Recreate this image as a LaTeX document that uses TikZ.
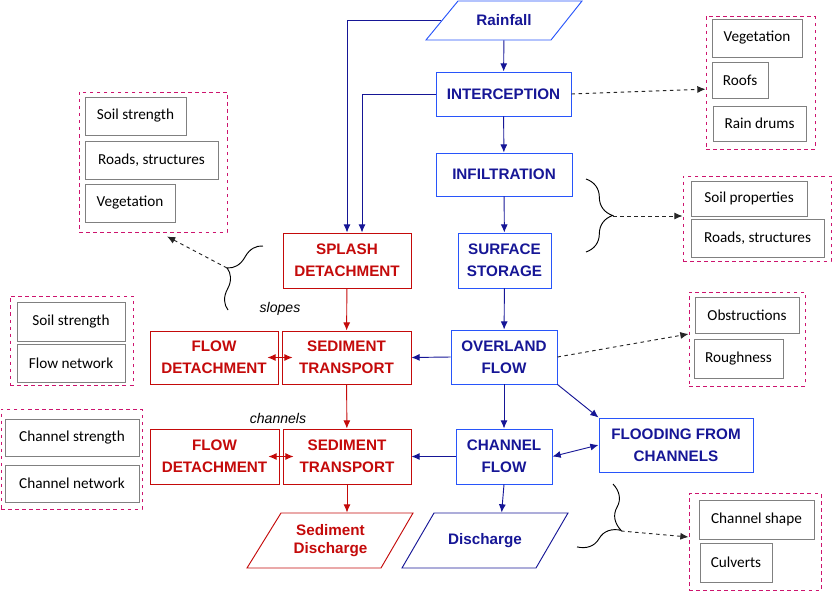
\documentclass[tikz,border=0pt]{standalone}
\usepackage{fontspec}
\setmainfont{Liberation Sans}
\newfontfamily\calibri{Carlito}
\usetikzlibrary{decorations.pathreplacing,arrows.meta}

\definecolor{navy}{RGB}{22,22,150}
\definecolor{bbox}{RGB}{40,85,250}
\definecolor{rbox}{RGB}{196,10,10}
\definecolor{pinkd}{RGB}{205,20,110}
\definecolor{gbox}{RGB}{128,128,128}

\begin{document}
\begin{tikzpicture}[x=0.03cm, y=-0.03cm,
  sz/.style 2 args={minimum width=#1*0.03cm, minimum height=#2*0.03cm},
  bbx/.style={draw=bbox, line width=0.8pt, text=navy, inner sep=0pt, align=center,
    font=\fontsize{13}{19}\selectfont\bfseries},
  rbx/.style={bbx, draw=rbox, text=rbox},
  txt/.style={bbx, draw=none},
  grp/.style={draw=pinkd, dashed, line width=0.8pt, inner sep=0pt},
  item/.style={draw=gbox, line width=0.8pt, inner sep=0pt,
    font=\calibri\fontsize{13}{15}\selectfont},
  barr/.style={navy, line width=0.8pt, -{Latex[length=7pt,width=6pt]}},
  rarr/.style={barr, rbox},
  darr/.style={black!85, dashed, line width=0.8pt, -{Latex[length=7pt,width=6pt]}},
  brc/.style={decorate, decoration={brace, amplitude=#1}, line width=0.8pt}
]
\useasboundingbox (0,0) rectangle (832,592);

% water path
\draw[bbox, line width=0.8pt] (458,1) -- (582,1) -- (551,40) -- (426,40) -- cycle;
\node[txt, sz={124.5}{39}] (rain) at (504,20.5) {Rainfall};
\node[bbx, sz={135}{44}] (icpt) at (503.5,94) {INTERCEPTION};
\node[bbx, sz={136}{43}] (infl) at (504,174.5) {INFILTRATION};
\node[bbx, sz={93}{55}] (stor) at (504.5,260.5) {SURFACE\\STORAGE};
\node[bbx, sz={106}{54}] (ovfl) at (504,357) {OVERLAND\\FLOW};
\node[bbx, sz={96}{55}] (chfl) at (504,456.5) {CHANNEL\\FLOW};
\node[bbx, sz={154}{54}] (flood) at (676,445) {FLOODING FROM\\CHANNELS};
\draw[navy, line width=0.8pt] (434,513) -- (568,513) -- (536,568) -- (402,568) -- cycle;
\node[txt, sz={134}{55}] (dis) at (485,540.5) {Discharge};

% sediment path
\node[rbx, sz={128}{55}] (splash) at (347,260.5) {SPLASH\\DETACHMENT};
\node[rbx, sz={129}{53}] (sed1) at (346.5,357.5) {SEDIMENT\\TRANSPORT};
\node[rbx, sz={128}{53}] (fd1) at (214,357.5) {FLOW\\DETACHMENT};
\node[rbx, sz={128}{55}] (sed2) at (347,456.5) {SEDIMENT\\TRANSPORT};
\node[rbx, sz={129}{55}] (fd2) at (214.5,456.5) {FLOW\\DETACHMENT};
\draw[rbox, line width=0.8pt] (281,513) -- (413,513) -- (381,568) -- (247,568) -- cycle;
\node[txt, text=rbox, sz={133}{55}, font=\fontsize{13}{15.5}\selectfont\bfseries] (sdis) at (330.5,540.5) {Sediment\\Discharge};

\node[font=\fontsize{12}{14}\selectfont\itshape] (slp) at (280,309) {slopes};
\node[font=\fontsize{12}{14}\selectfont\itshape] (chn) at (278,418) {channels};

% factor groups
\node[grp, sz={148}{140}] (g0) at (153,162) {};
\node[item, sz={101}{38}] (g0a) at (135.5,116) {Soil strength};
\node[item, sz={133}{38}] (g0b) at (151.5,160) {Roads, structures};
\node[item, sz={90}{38}] (g0c) at (130,203) {Vegetation};

\node[grp, sz={109}{133}] (g1) at (760.5,82.5) {};
\node[item, sz={90}{38}] (g1a) at (757,38) {Vegetation};
\node[item, sz={56}{36}] (g1b) at (740,80) {Roofs};
\node[item, sz={93}{35}] (g1c) at (759.5,123.5) {Rain drums};

\node[grp, sz={148}{85}] (g2) at (757,218.5) {};
\node[item, sz={116}{35}] (g2a) at (749,198.5) {Soil properties};
\node[item, sz={133}{38}] (g2b) at (757.5,238) {Roads, structures};

\node[grp, sz={116}{94}] (g3) at (747,339) {};
\node[item, sz={104}{36}] (g3a) at (747,315) {Obstructions};
\node[item, sz={89}{39}] (g3b) at (738.5,358.5) {Roughness};

\node[grp, sz={132}{97}] (g4) at (755,542) {};
\node[item, sz={115}{39}] (g4a) at (756.5,519.5) {Channel shape};
\node[item, sz={72}{39}] (g4b) at (736,562.5) {Culverts};

\node[grp, sz={123}{89}] (g5) at (71.5,340.5) {};
\node[item, sz={108}{39}] (g5a) at (71,321.5) {Soil strength};
\node[item, sz={108}{38}] (g5b) at (71,363) {Flow network};

\node[grp, sz={141}{100}] (g6) at (71.5,459) {};
\node[item, sz={134}{37}] (g6a) at (72,437.5) {Channel strength};
\node[item, sz={134}{37}] (g6b) at (72,483.5) {Channel network};

% blue arrows
\draw[barr] (rain) -- (icpt);
\draw[barr] (icpt) -- (infl);
\draw[barr] (infl) -- (stor);
\draw[barr] (stor) -- (ovfl);
\draw[barr] (ovfl) -- (chfl);
\draw[barr] (chfl.south) -- ([xshift=0.5cm]dis.north);
\draw[barr] (rain.west) -| (splash.north);
\draw[barr] (icpt.west) -| ([xshift=0.45cm]splash.north);
\draw[barr] (ovfl.west) -- (sed1.east);
\draw[barr] (chfl.west) -- (sed2.east);
\draw[barr] (ovfl.south east) -- (flood.north west);
\draw[barr, {Latex[length=7pt,width=6pt]}-{Latex[length=7pt,width=6pt]}] (chfl.east) -- (flood.west);

% red arrows
\draw[rarr] (splash) -- (sed1);
\draw[rarr] (sed1) -- (sed2);
\draw[rarr] (sed2.south) -- (sed2.south |- sdis.north);
\draw[rarr, {Latex[length=7pt,width=6pt]}-{Latex[length=7pt,width=6pt]}] ([xshift=-0.33cm]fd1.east) -- ([xshift=0.33cm]sed1.west);
\draw[rarr, {Latex[length=7pt,width=6pt]}-{Latex[length=7pt,width=6pt]}] ([xshift=-0.33cm]fd2.east) -- ([xshift=0.33cm]sed2.west);

% braces
\coordinate (b0a) at (228,310);
\coordinate (b0b) at (263,246);
\coordinate (b0t) at (227,268);
\draw[brc=0.63cm] (b0a) -- (b0b);
\coordinate (b2a) at (586,179);
\coordinate (b2b) at (586,252);
\coordinate (b2t) at (613,216);
\draw[brc=0.8cm] (b2a) -- (b2b);
\coordinate (b4a) at (613,484);
\coordinate (b4b) at (577,547);
\coordinate (b4t) at (621,531);
\draw[brc=0.9cm] (b4a) -- (b4b);

% dashed links
\draw[darr] (icpt.east) -- ([yshift=-0.2cm]g1.west);
\draw[darr] (b2t) -- (g2.west |- b2t);
\draw[darr] (ovfl.east) -- ([yshift=0.15cm]g3.west);
\draw[darr] (b4t) -- ([yshift=0.15cm]g4.west);
\draw[darr] (b0t) -- ([xshift=0.42cm,yshift=-0.12cm]g0.south);
\end{tikzpicture}
\end{document}
